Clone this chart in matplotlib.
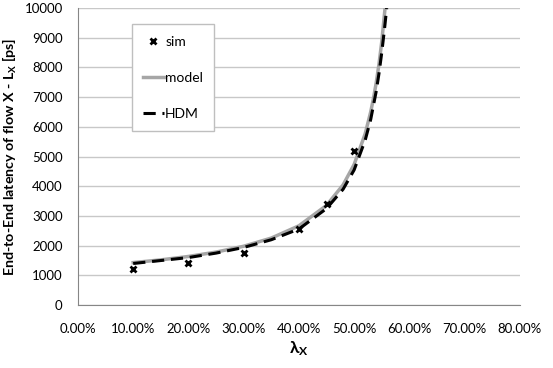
import matplotlib
matplotlib.use('Agg')
import matplotlib.pyplot as plt
from matplotlib.ticker import FuncFormatter

plt.rcParams['font.family'] = ['Lato', 'DejaVu Sans']
plt.rcParams['mathtext.fontset'] = 'custom'
plt.rcParams['mathtext.rm'] = 'Lato'
plt.rcParams['mathtext.bf'] = 'Lato:bold'

# simulation points
sim_lam = [0.10, 0.20, 0.30, 0.40, 0.45, 0.50]
sim_lat = [1220, 1430, 1765, 2550, 3400, 5200]

# analytical model
model_lam = [0.10, 0.15, 0.20, 0.25, 0.30, 0.35, 0.40, 0.45, 0.48, 0.50,
             0.52, 0.53, 0.535, 0.54, 0.545, 0.55, 0.556]
model_lat = [1430, 1522, 1637, 1784, 1981, 2256, 2669, 3357, 4046, 4734,
             5767, 6504, 6958, 7487, 8113, 8864, 10000]

# HDM
hdm_lam = [0.10, 0.15, 0.20, 0.25, 0.30, 0.35, 0.40, 0.45, 0.48, 0.50,
           0.52, 0.53, 0.54, 0.545, 0.55, 0.555, 0.559]
hdm_lat = [1400, 1500, 1600, 1750, 1940, 2200, 2560, 3250, 3900, 4550,
           5550, 6250, 7200, 7800, 8500, 9300, 10000]

fig = plt.figure(figsize=(5.53, 3.68), dpi=100)
ax = fig.add_axes([0.141, 0.171, 0.799, 0.807])

ax.plot(model_lam, model_lat, color='#a6a6a6', lw=2.5, label='model', zorder=2)
ax.plot(hdm_lam, hdm_lat, color='black', lw=2.2, dashes=(4, 2.2), label='HDM', zorder=3)
ax.plot(sim_lam, sim_lat, linestyle='none', marker='x', color='black',
        ms=5, mew=2, label='sim', zorder=4)

ax.set_xlim(0, 0.8)
ax.set_ylim(0, 10000)
ax.set_xticks([i / 10 for i in range(9)])
ax.set_yticks(range(0, 10001, 1000))
ax.xaxis.set_major_formatter(FuncFormatter(lambda v, p: f'{v*100:.2f}%'))
ax.grid(axis='y', color='#c8c8c8', lw=1)
ax.set_axisbelow(True)
for s in ['top', 'right']:
    ax.spines[s].set_visible(False)
for s in ['left', 'bottom']:
    ax.spines[s].set_color('#868686')
ax.tick_params(length=0, labelsize=9.5, colors='#000000')
ax.tick_params(axis='x', pad=13)
ax.tick_params(axis='y', pad=11)

ax.set_xlabel(r'$\mathbf{\lambda_X}$', fontsize=12.5, fontweight='bold', labelpad=3)
ax.set_ylabel(r'End-to-End latency of flow X - L$_\mathbf{X}$ [ps]',
              fontsize=10.3, fontweight='bold', labelpad=4)

h, l = ax.get_legend_handles_labels()
order = [2, 0, 1]
leg = ax.legend([h[i] for i in order], [l[i] for i in order],
                loc='upper left', bbox_to_anchor=(0.122, 0.945),
                borderaxespad=0,
                fontsize=10, handlelength=1.5, handletextpad=0.1,
                labelspacing=1.75, borderpad=0.8, fancybox=False,
                edgecolor='#bfbfbf', framealpha=1)
leg.get_frame().set_linewidth(1)

fig.savefig('out.png', dpi=100)
